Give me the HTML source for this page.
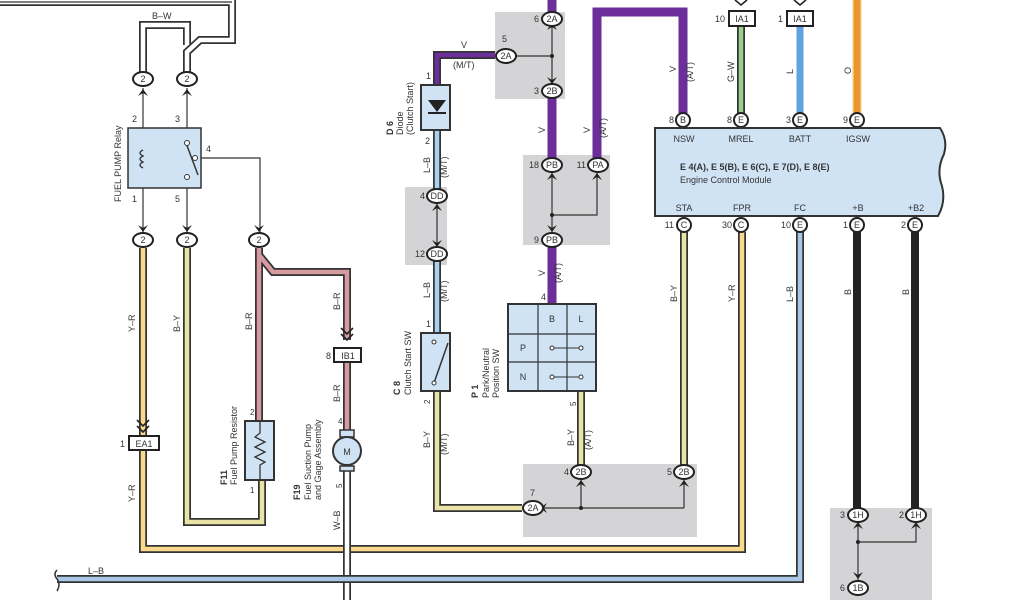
<!DOCTYPE html>
<html><head><meta charset="utf-8"><style>
body{margin:0;background:#fff}
svg{display:block;font-family:"Liberation Sans",sans-serif}
.o{fill:none;stroke:#333;stroke-width:8;stroke-linejoin:miter}
.w{fill:none;stroke-width:4.5}
.t{fill:none;stroke:#333;stroke-width:1.2}
.c ellipse{fill:#fff;stroke:#222;stroke-width:2}
text{fill:#333;font-size:9px}
.sm{font-size:8px}
</style></head><body>
<svg width="1024" height="600" viewBox="0 0 1024 600" xmlns="http://www.w3.org/2000/svg">
<g fill="#d4d4d6">
<rect x="495" y="12" width="70" height="87"/>
<rect x="405" y="187" width="42" height="78"/>
<rect x="523" y="155" width="87" height="90"/>
<rect x="523" y="464" width="174" height="73"/>
<rect x="830" y="508" width="102" height="92"/>
</g>
<path class="o" d="M0,2 H232 V40 H200 L187,52 V75"/>
<path class="w" stroke="#fff" d="M0,2 H232 V40 H200 L187,52 V75"/>
<path class="o" d="M143,75 V25 H187 V45"/>
<path class="w" stroke="#fff" d="M143,75 V25 H187 V45"/>
<path class="t" stroke-width="2" d="M0,2 H232"/>
<path class="o" d="M143,248 V549 H742 V232" stroke="#c98a2a"/>
<path class="w" stroke="#fbd98c" d="M143,248 V549 H742 V232"/>
<path class="o" d="M187,248 V522 H262 V480"/>
<path class="w" stroke="#e9e4a6" d="M187,248 V522 H262 V480"/>
<path class="o" d="M259,248 V421 M259,255 L273,272 H347 V340 M347,362 V440" stroke="#7a3a40"/>
<path class="w" stroke="#d69aa0" d="M259,248 V421 M259,255 L273,272 H347 V340 M347,362 V440"/>
<path class="o" d="M347,465 V600"/>
<path class="w" stroke="#fff" d="M347,465 V600"/>
<path class="o" d="M57,579 H800 V232" stroke="#3f6f98"/>
<path class="w" stroke="#a8c8e6" d="M57,579 H800 V232"/>
<path d="M57,570 q-4,4 0,9 q4,5 0,12" fill="none" stroke="#333" stroke-width="1.5"/>
<path class="o" d="M437,130 V189 M437,261 V333" stroke="#4f7fa8"/>
<path class="w" stroke="#a8d0f0" d="M437,130 V189 M437,261 V333"/>
<path class="o" d="M437,85 V55 H495" stroke="#4a1a70"/>
<path class="w" stroke="#6b2e9a" d="M437,85 V55 H495"/>
<path d="M552,0 V12 M552,98 V158 M552,247 V304" stroke="#6b2e9a" stroke-width="9" fill="none"/>
<path d="M597,158 V12 H683 V113" stroke="#6b2e9a" stroke-width="9" fill="none"/>
<path class="o" d="M437,391 V508 H522"/>
<path class="w" stroke="#e9e4a6" d="M437,391 V508 H522"/>
<path class="o" d="M581,391 V465"/>
<path class="w" stroke="#e9e4a6" d="M581,391 V465"/>
<path class="o" d="M684,232 V465"/>
<path class="w" stroke="#e9e4a6" d="M684,232 V465"/>
<path class="o" d="M741,26 V113" stroke="#3f7a30"/>
<path class="w" stroke="#9ad08a" d="M741,26 V113"/>
<path d="M800,26 V113" stroke="#5ea4e0" stroke-width="7"/>
<path d="M857,0 V113" stroke="#f7c070" stroke-width="9"/>
<path d="M857,0 V113" stroke="#e8962e" stroke-width="6"/>
<path d="M857,232 V508 M915,232 V508" stroke="#222" stroke-width="8"/>
<path class="t" d="M143,88 V235 M187,88 V235 M195,158 H260 V235 M503,56 H552 M552,25 V84 M552,172 V233 M552,215 H597 V172 M437,203 V247 M533,508 H684 M581,480 V508 M684,480 V508 M858,522 V581 M858,542 H916 V522"/>
<g fill="#222"><circle cx="552" cy="56" r="2"/><circle cx="552" cy="215" r="2"/><circle cx="581" cy="508" r="2"/><circle cx="858" cy="542" r="2"/></g>
<g fill="#222">
<path d="M138,96 l5,-7 l5,7 l-5,-3z M182,96 l5,-7 l5,7 l-5,-3z M138,225 l5,7 l5,-7 l-5,3z M182,225 l5,7 l5,-7 l-5,3z M254,225 l5,7 l5,-7 l-5,3z"/>
<path d="M547,30 l5,-7 l5,7 l-5,-3z M547,77 l5,7 l5,-7 l-5,3z M513,51 l-7,5 l7,5 l-3,-5z M547,180 l5,-7 l5,7 l-5,-3z M592,180 l5,-7 l5,7 l-5,-3z M547,225 l5,7 l5,-7 l-5,3z"/>
<path d="M432,211 l5,-7 l5,7 l-5,-3z M432,240 l5,7 l5,-7 l-5,3z M576,487 l5,-7 l5,7 l-5,-3z M679,487 l5,-7 l5,7 l-5,-3z M547,503 l-7,5 l7,5 l-3,-5z"/>
<path d="M853,529 l5,-7 l5,7 l-5,-3z M911,529 l5,-7 l5,7 l-5,-3z M853,572 l5,7 l5,-7 l-5,3z"/>
</g>
<path d="M137,420 l6,6 l6,-6 M137,426 l6,6 l6,-6 M341,328 l6,6 l6,-6 M341,334 l6,6 l6,-6 M735,0 l6,5 l6,-5 M794,0 l6,5 l6,-5" fill="none" stroke="#222" stroke-width="1.6"/>
<g class="c" text-anchor="middle">
<ellipse cx="143" cy="79" rx="10" ry="7"/><text x="143" y="82">2</text>
<ellipse cx="187" cy="79" rx="10" ry="7"/><text x="187" y="82">2</text>
<ellipse cx="143" cy="240" rx="10" ry="7"/><text x="143" y="243">2</text>
<ellipse cx="187" cy="240" rx="10" ry="7"/><text x="187" y="243">2</text>
<ellipse cx="259" cy="240" rx="10" ry="7"/><text x="259" y="243">2</text>
<ellipse cx="552" cy="19" rx="10" ry="7"/><text x="552" y="22">2A</text>
<ellipse cx="506" cy="56" rx="10" ry="7"/><text x="506" y="59">2A</text>
<ellipse cx="552" cy="91" rx="10" ry="7"/><text x="552" y="94">2B</text>
<ellipse cx="552" cy="165" rx="10" ry="7"/><text x="552" y="168">PB</text>
<ellipse cx="598" cy="165" rx="10" ry="7"/><text x="598" y="168">PA</text>
<ellipse cx="552" cy="240" rx="10" ry="7"/><text x="552" y="243">PB</text>
<ellipse cx="437" cy="196" rx="10" ry="7"/><text x="437" y="199">DD</text>
<ellipse cx="437" cy="254" rx="10" ry="7"/><text x="437" y="257">DD</text>
<ellipse cx="581" cy="472" rx="10" ry="7"/><text x="581" y="475">2B</text>
<ellipse cx="684" cy="472" rx="10" ry="7"/><text x="684" y="475">2B</text>
<ellipse cx="533" cy="508" rx="10" ry="7"/><text x="533" y="511">2A</text>
<ellipse cx="858" cy="515" rx="10" ry="7"/><text x="858" y="518">1H</text>
<ellipse cx="916" cy="515" rx="10" ry="7"/><text x="916" y="518">1H</text>
<ellipse cx="858" cy="588" rx="10" ry="7"/><text x="858" y="591">1B</text>
<ellipse cx="683" cy="120" rx="7" ry="7"/><text x="683" y="123">B</text>
<ellipse cx="741" cy="120" rx="7" ry="7"/><text x="741" y="123">E</text>
<ellipse cx="800" cy="120" rx="7" ry="7"/><text x="800" y="123">E</text>
<ellipse cx="857" cy="120" rx="7" ry="7"/><text x="857" y="123">E</text>
<ellipse cx="684" cy="225" rx="7" ry="7"/><text x="684" y="228">C</text>
<ellipse cx="741" cy="225" rx="7" ry="7"/><text x="741" y="228">C</text>
<ellipse cx="800" cy="225" rx="7" ry="7"/><text x="800" y="228">E</text>
<ellipse cx="857" cy="225" rx="7" ry="7"/><text x="857" y="228">E</text>
<ellipse cx="915" cy="225" rx="7" ry="7"/><text x="915" y="228">E</text>
</g>
<g fill="#fff" stroke="#222" stroke-width="2">
<rect x="129" y="436" width="30" height="14"/><rect x="334" y="348" width="27" height="14"/>
<rect x="729" y="11" width="26" height="15"/><rect x="787" y="11" width="26" height="15"/>
</g>
<g text-anchor="middle"><text x="144" y="447">EA1</text><text x="348" y="359">IB1</text><text x="742" y="22">IA1</text><text x="800" y="22">IA1</text></g>
<g text-anchor="end"><text x="125" y="447">1</text><text x="331" y="359">8</text><text x="725" y="22">10</text><text x="783" y="22">1</text>
<text x="539" y="22">6</text><text x="539" y="94">3</text><text x="539" y="168">18</text><text x="586" y="168">11</text><text x="539" y="243">9</text>
<text x="425" y="199">4</text><text x="425" y="257">12</text><text x="569" y="475">4</text><text x="672" y="475">5</text>
<text x="845" y="518">3</text><text x="904" y="518">2</text><text x="845" y="591">6</text>
<text x="674" y="123">8</text><text x="732" y="123">8</text><text x="791" y="123">3</text><text x="848" y="123">9</text>
<text x="674" y="228">11</text><text x="732" y="228">30</text><text x="791" y="228">10</text><text x="848" y="228">1</text><text x="906" y="228">2</text></g>
<rect x="128" y="128" width="73" height="60" fill="#cfe3f5" stroke="#333" stroke-width="1.5"/>
<path d="M143,150 q-6,3 0,6 q-6,3 0,6 q-6,3 0,6" fill="none" stroke="#333" stroke-width="1.3"/>
<path d="M186,143 L198,175" stroke="#333" stroke-width="1.5"/>
<g fill="#fff" stroke="#333"><circle cx="187" cy="143" r="2.5"/><circle cx="187" cy="177" r="2.5"/><circle cx="195" cy="158" r="2.5"/></g>
<text x="132" y="122">2</text><text x="175" y="122">3</text><text x="132" y="202">1</text><text x="175" y="202">5</text><text x="206" y="152">4</text>
<text transform="translate(121,202) rotate(-90)" font-size="9">FUEL PUMP Relay</text>
<rect x="245" y="421" width="29" height="59" fill="#cfe3f5" stroke="#333" stroke-width="2"/>
<path d="M260,421 V433 l-5,4 l10,5 l-10,5 l10,5 l-10,5 l10,5 l-5,3 V480" fill="none" stroke="#333" stroke-width="1.3"/>
<text x="250" y="415" class="sm">2</text><text x="250" y="493" class="sm">1</text>
<text transform="translate(227,485) rotate(-90)" font-weight="bold">F11</text>
<text transform="translate(237,485) rotate(-90)">Fuel Pump Resistor</text>
<rect x="340" y="430" width="14" height="7" fill="#cfe3f5" stroke="#333" stroke-width="1.5"/>
<rect x="340" y="466" width="14" height="5" fill="#cfe3f5" stroke="#333" stroke-width="1.5"/>
<circle cx="347" cy="451" r="14" fill="#cfe3f5" stroke="#333" stroke-width="2"/>
<text x="347" y="455" text-anchor="middle">M</text>
<text x="338" y="424" class="sm">4</text><text transform="translate(342,488) rotate(-90)" class="sm">5</text>
<text transform="translate(300,500) rotate(-90)" font-weight="bold">F19</text>
<text transform="translate(311,500) rotate(-90)">Fuel Suction Pump</text>
<text transform="translate(321,500) rotate(-90)">and Gage Assembly</text>
<rect x="421" y="85" width="29" height="45" fill="#cfe3f5" stroke="#333" stroke-width="2"/>
<path d="M428,100 h18 l-9,12z" fill="#222"/><path d="M428,113 h18" stroke="#222" stroke-width="2"/>
<text x="426" y="79">1</text><text x="425" y="144">2</text>
<text transform="translate(393,135) rotate(-90)" font-weight="bold">D 6</text>
<text transform="translate(403,135) rotate(-90)">Diode</text>
<text transform="translate(413,135) rotate(-90)">(Clutch Start)</text>
<text x="461" y="48">V</text><text x="453" y="68">(M/T)</text><text x="502" y="42">5</text>
<rect x="421" y="333" width="29" height="58" fill="#cfe3f5" stroke="#333" stroke-width="2"/>
<path d="M434,383 L448,343" stroke="#333" stroke-width="1.5"/>
<g fill="#fff" stroke="#333"><circle cx="434" cy="342" r="2"/><circle cx="434" cy="383" r="2"/></g>
<text x="426" y="327">1</text><text transform="translate(430,404) rotate(-90)" class="sm">2</text>
<text transform="translate(400,395) rotate(-90)" font-weight="bold">C 8</text>
<text transform="translate(411,395) rotate(-90)">Clutch Start SW</text>
<text x="530" y="496">7</text>
<rect x="508" y="304" width="88" height="87" fill="#cfe3f5" stroke="#333" stroke-width="2"/>
<path d="M538,304 V391 M567,304 V391 M508,334 H596 M508,362 H596" stroke="#333" stroke-width="1.2"/>
<g text-anchor="middle"><text x="552" y="322">B</text><text x="581" y="322">L</text><text x="523" y="351">P</text><text x="523" y="380">N</text></g>
<path d="M552,348 H581 M552,377 H581" stroke="#333"/>
<g fill="#fff" stroke="#333"><circle cx="552" cy="348" r="2"/><circle cx="581" cy="348" r="2"/><circle cx="552" cy="377" r="2"/><circle cx="581" cy="377" r="2"/></g>
<text x="541" y="300">4</text><text transform="translate(576,406) rotate(-90)" class="sm">5</text>
<text transform="translate(478,398) rotate(-90)" font-weight="bold">P 1</text>
<text transform="translate(489,398) rotate(-90)">Park/Neutral</text>
<text transform="translate(499,398) rotate(-90)">Position SW</text>
<path d="M655,128 H940 q8,12 4,26 q-8,16 -2,32 q4,16 -4,30 H655z" fill="#cfe3f5" stroke="#333" stroke-width="2"/>
<g text-anchor="middle"><text x="684" y="142">NSW</text><text x="741" y="142">MREL</text><text x="800" y="142">BATT</text><text x="858" y="142">IGSW</text>
<text x="684" y="211">STA</text><text x="742" y="211">FPR</text><text x="800" y="211">FC</text><text x="858" y="211">+B</text><text x="916" y="211">+B2</text></g>
<text x="680" y="170" font-weight="bold">E 4(A), E 5(B), E 6(C), E 7(D), E 8(E)</text>
<text x="680" y="183">Engine Control Module</text>
<g font-size="9">
<text x="152" y="19">B–W</text>
<text x="88" y="574">L–B</text>
<text transform="translate(135,332) rotate(-90)">Y–R</text>
<text transform="translate(135,502) rotate(-90)">Y–R</text>
<text transform="translate(180,332) rotate(-90)">B–Y</text>
<text transform="translate(252,330) rotate(-90)">B–R</text>
<text transform="translate(340,310) rotate(-90)">B–R</text>
<text transform="translate(340,402) rotate(-90)">B–R</text>
<text transform="translate(340,530) rotate(-90)">W–B</text>
<text transform="translate(430,173) rotate(-90)">L–B</text>
<text transform="translate(447,178) rotate(-90)">(M/T)</text>
<text transform="translate(430,298) rotate(-90)">L–B</text>
<text transform="translate(447,302) rotate(-90)">(M/T)</text>
<text transform="translate(430,448) rotate(-90)">B–Y</text>
<text transform="translate(447,455) rotate(-90)">(M/T)</text>
<text transform="translate(545,133) rotate(-90)">V</text>
<text transform="translate(590,133) rotate(-90)">V</text>
<text transform="translate(606,138) rotate(-90)">(A/T)</text>
<text transform="translate(545,276) rotate(-90)">V</text>
<text transform="translate(561,283) rotate(-90)">(A/T)</text>
<text transform="translate(574,446) rotate(-90)">B–Y</text>
<text transform="translate(591,450) rotate(-90)">(A/T)</text>
<text transform="translate(676,72) rotate(-90)">V</text>
<text transform="translate(693,82) rotate(-90)">(A/T)</text>
<text transform="translate(734,82) rotate(-90)">G–W</text>
<text transform="translate(793,74) rotate(-90)">L</text>
<text transform="translate(851,74) rotate(-90)">O</text>
<text transform="translate(677,302) rotate(-90)">B–Y</text>
<text transform="translate(735,302) rotate(-90)">Y–R</text>
<text transform="translate(793,302) rotate(-90)">L–B</text>
<text transform="translate(851,295) rotate(-90)">B</text>
<text transform="translate(909,295) rotate(-90)">B</text>
</g>
</svg>
</body></html>
